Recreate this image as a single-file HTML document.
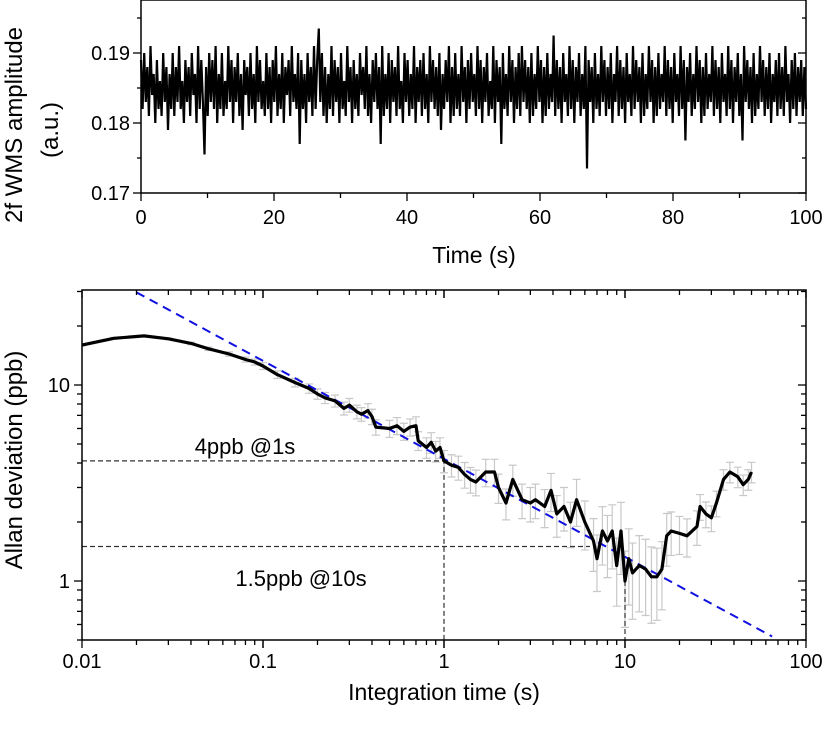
<!DOCTYPE html>
<html><head><meta charset="utf-8"><style>
body{margin:0;background:#fff}
svg{display:block;font-family:"Liberation Sans Narrow","Liberation Sans",sans-serif}
</style></head><body>
<svg id="s" width="825" height="738" viewBox="0 0 825 738"></svg>
<script>
// ---- top chart data (deviation from 0.185 in units of 0.001) ----
const topDev=[
4,-3,5,-2,3,-4,6,-1,2,-5,4,-3,1,-4,5,-2,3,-6,2,-3,
5,-4,3,-2,6,-3,1,-5,4,-2,3,-4,5,-1,2,-5,6,-3,4,-2,
-9.5,3,-4,5,-2,4,-3,6,-5,2,-3,5,-4,1,-3,6,-2,4,-5,3,
-2,5,-4,2,-6,4,-1,3,-4,5,-3,2,-5,6,-2,4,-3,1,-4,5,
-3,3,-5,4,-2,6,-4,2,-3,5,-5,3,-1,4,-4,6,-2,2,-3,5,
-8,4,-3,2,-5,5,-2,3,-4,6,-3,4,8.5,-2,5,-4,3,-5,2,-3,
6,-4,4,-2,3,-5,5,-3,1,-4,6,-2,3,-5,4,-3,2,-4,5,-1,
3,-3,6,-4,2,-5,4,-2,5,-3,3,-8,6,-4,2,-3,5,-5,4,-2,
3,-4,6,-3,1,-5,5,-2,4,-4,2,-3,6,-5,3,-2,4,-4,5,-3,
2,-5,6,-2,4,-3,3,-4,5,-6,2,-3,4,-2,6,-5,3,-4,5,-3,
2,-4,6,-2,3,-5,4,-3,5,-2,2,-4,6,-3,4,-5,3,-2,5,-4,
1,-3,6,-5,4,-2,3,-8,5,-3,2,-4,6,-2,4,-5,3,-3,5,-4,
6,-2,4,-3,3,-5,5,-4,2,-3,6,-2,4,-5,3,-4,5,-3,2,-2,
7.5,-4,4,-3,3,-5,5,-2,2,-4,6,-3,4,-5,3,-2,5,-4,2,-3,
6,-11.5,4,-2,3,-5,5,-3,2,-4,6,-2,4,-4,3,-3,5,-5,2,-2,
6,-4,4,-3,3,-5,5,-2,2,-4,6,-3,4,-2,3,-5,5,-4,2,-3,
6,-2,4,-5,3,-4,5,-3,2,-2,6,-4,4,-3,3,-5,5,-2,2,-4,
6,-3,4,-7.5,3,-2,5,-4,2,-3,6,-2,4,-5,3,-4,5,-3,2,-2,
6,-4,4,-3,3,-5,5,-2,2,-4,6,-3,4,-5,3,-2,5,-4,2,-7.5,
6,-2,4,-3,3,-5,5,-4,2,-3,6,-2,4,-4,3,-3,5,-5,2,-2,
4,-4,5,-3,3,-4,6,-2,2,-5,4,-3,5,-4,3,-2,4,-4,3,-3];
const topYTicks=[0.17,0.18,0.19];
const topXTicks=[0,20,40,60,80,100];
// ---- bottom chart data ----
const tau=[0.01,0.015,0.022,0.03,0.04,0.05,0.065,0.08,0.09,0.1,0.12,0.15,0.18,0.2,0.22,0.25,0.28,0.3,0.33,0.35,0.38,0.4,0.42,0.5,0.55,0.6,0.65,0.7,0.72,0.8,0.85,0.9,0.95,1,1.1,1.2,1.3,1.4,1.5,1.7,1.9,2,2.2,2.4,2.7,3,3.2,3.6,3.9,4.2,4.6,5,5.4,6,6.7,7,7.5,8,8.5,9,9.5,10,10.5,11,12,13,14,15,16,17,18,20,22,25,26,28,30,32,35,38,42,45,48,50];
const adev=[16,17.3,17.8,17.2,16.3,15.3,14.4,13.5,13.1,12.5,11.3,10.3,9.6,9,8.6,8.3,7.6,7.9,7.3,7.1,7.4,6.9,6.1,6,6.2,5.8,6.1,6.2,5.2,4.8,5.1,4.6,4.8,4.1,3.9,3.8,3.5,3.3,3.2,3.6,3.6,3.0,2.5,3.3,2.6,2.5,2.6,2.4,2.9,2.2,2.4,2.0,2.6,2.0,1.6,1.3,1.8,1.6,1.8,1.2,1.8,1.0,1.3,1.1,1.2,1.15,1.05,1.05,1.15,1.7,1.8,1.75,1.7,1.9,2.4,2.2,2.1,2.5,3.3,3.6,3.4,3.1,3.3,3.6];
const errFrac=[0.01,0.01,0.01,0.01,0.015,0.02,0.025,0.03,0.035,0.04,0.045,0.05,0.055,0.06,0.065,0.07,0.075,0.08,0.08,0.08,0.085,0.09,0.09,0.1,0.1,0.1,0.1,0.11,0.11,0.12,0.12,0.12,0.12,0.13,0.13,0.14,0.15,0.15,0.15,0.16,0.16,0.17,0.18,0.18,0.2,0.2,0.2,0.22,0.22,0.24,0.25,0.26,0.27,0.28,0.3,0.32,0.33,0.35,0.36,0.38,0.4,0.42,0.42,0.42,0.42,0.42,0.42,0.4,0.38,0.3,0.25,0.22,0.22,0.2,0.15,0.15,0.15,0.15,0.12,0.12,0.12,0.12,0.12,0.12];
const botXTicks=[0.01,0.1,1,10,100];
const botXLabels=["0.01","0.1","1","10","100"];
const botYTicks=[1,10];
const fitCoef=4.2, fitSlope=-0.5;
const NS="http://www.w3.org/2000/svg";
const svg=document.getElementById('s');
function el(tag,attrs,parent){const e=document.createElementNS(NS,tag);for(const k in attrs)e.setAttribute(k,attrs[k]);(parent||svg).appendChild(e);return e;}
// top axes
const TL=141,TR=806,TT=0,TB=193;
const tx=v=>TL+(v/100)*(TR-TL);
const ty=v=>TB-(v-0.17)/0.01*70;
const gTop=el('g',{});


let d='';
topDev.forEach((v,i)=>{const x=tx(i*100/(topDev.length-1)),y=ty(0.185+v*0.001);d+=(i?'L':'M')+x.toFixed(1)+' '+y.toFixed(1);});
const tl=el('path',{d:d,fill:'none',stroke:'#000','stroke-width':2.2},gTop);


el('rect',{x:TL,y:TT,width:TR-TL,height:TB-TT,fill:'none',stroke:'#000','stroke-width':1.5},gTop);
for(let v=0.17;v<=0.1975;v+=0.005){const y=ty(v);const maj=Math.abs(v*100-Math.round(v*100))<1e-6;el('line',{x1:TL-(maj?8:4),x2:TL,y1:y,y2:y,stroke:'#000','stroke-width':1.3},gTop);el('line',{x1:TR,x2:TR-(maj?8:4),y1:y,y2:y,stroke:'#000','stroke-width':1.3},gTop);}
topYTicks.forEach(v=>{const t=el('text',{x:TL-11,y:ty(v)+7,'text-anchor':'end','font-size':20},gTop);t.textContent=v.toFixed(2);});
for(let v=0;v<=100;v+=10){const x=tx(v);const maj=v%20===0;el('line',{x1:x,x2:x,y1:TB,y2:TB+(maj?8:5),stroke:'#000','stroke-width':1.3},gTop);}
topXTicks.forEach(v=>{const t=el('text',{x:tx(v),y:TB+31,'text-anchor':'middle','font-size':20},gTop);t.textContent=v;});
let t=el('text',{x:474,y:263,'text-anchor':'middle','font-size':23},gTop);t.textContent='Time (s)';


t=el('text',{transform:'translate(22,125) rotate(-90)','text-anchor':'middle','font-size':24},gTop);t.textContent='2f WMS amplitude';


t=el('text',{transform:'translate(58,130) rotate(-90)','text-anchor':'middle','font-size':24},gTop);t.textContent='(a.u.)';


// bottom axes
const BL=82,BR=806,BT=290,BB=640;
const lx=v=>BL+(Math.log10(v)+2)*(BR-BL)/4;
const ly=v=>581-Math.log10(v)*196;
const gB=el('g',{});


const clip=el('clipPath',{id:'cb'});el('rect',{x:BL,y:BT,width:BR-BL,height:BB-BT},clip);
const gPlot=el('g',{'clip-path':'url(#cb)'},gB);
// error bars
tau.forEach((x,i)=>{const X=lx(x),hi=ly(adev[i]*(1+errFrac[i])),lo=ly(adev[i]*(1-errFrac[i]));const e=el('path',{d:`M${X} ${hi}V${lo}M${X-4} ${hi}h8M${X-4} ${lo}h8`,stroke:'#c8c8c8','stroke-width':1.2,fill:'none'},gPlot);});
// reference dashed lines
const ref4=el('path',{d:`M${BL} ${ly(4.1)}H${lx(1)}V${BB}`,stroke:'#333','stroke-width':1.2,'stroke-dasharray':'5,3',fill:'none'},gPlot);


const ref15=el('path',{d:`M${BL} ${ly(1.5)}H${lx(6.4)}M${lx(10)} ${ly(1.0)}V${BB}`,stroke:'#333','stroke-width':1.2,'stroke-dasharray':'5,3',fill:'none'},gPlot);


// fit line
const fx1=0.02,fx2=65;
const fit=el('line',{x1:lx(fx1),y1:ly(fitCoef*Math.pow(fx1,fitSlope)),x2:lx(fx2),y2:ly(fitCoef*Math.pow(fx2,fitSlope)),stroke:'#1010e0','stroke-width':2,'stroke-dasharray':'9,6'},gPlot);


d='';tau.forEach((x,i)=>{d+=(i?'L':'M')+lx(x).toFixed(1)+' '+ly(adev[i]).toFixed(1);});
const al=el('path',{d:d,fill:'none',stroke:'#000','stroke-width':3.2,'stroke-linejoin':'round'},gPlot);


el('rect',{x:BL,y:BT,width:BR-BL,height:BB-BT,fill:'none',stroke:'#000','stroke-width':1.5},gB);
// x ticks
for(let e=-2;e<2;e++)for(let m=1;m<=10;m++){const v=m*Math.pow(10,e);const x=lx(v);const maj=m===1||m===10;const L=maj?8:5;el('line',{x1:x,x2:x,y1:BB,y2:BB+L,stroke:'#000','stroke-width':1.3},gB);el('line',{x1:x,x2:x,y1:BT,y2:BT+L,stroke:'#000','stroke-width':1.3},gB);}
botXTicks.forEach((v,i)=>{const t=el('text',{x:lx(v),y:BB+28,'text-anchor':'middle','font-size':20},gB);t.textContent=botXLabels[i];});
// y ticks
for(let e=-1;e<2;e++)for(let m=1;m<=9;m++){const v=m*Math.pow(10,e);if(v<0.5||v>30.5)continue;const y=ly(v);const maj=m===1;const L=maj?8:5;el('line',{x1:BL-L,x2:BL,y1:y,y2:y,stroke:'#000','stroke-width':1.3},gB);el('line',{x1:BR-L,x2:BR,y1:y,y2:y,stroke:'#000','stroke-width':1.3},gB);}
botYTicks.forEach(v=>{const t=el('text',{x:BL-12,y:ly(v)+7,'text-anchor':'end','font-size':20},gB);t.textContent=v;});
t=el('text',{x:444,y:700,'text-anchor':'middle','font-size':23},gB);t.textContent='Integration time (s)';


t=el('text',{transform:'translate(22,460) rotate(-90)','text-anchor':'middle','font-size':24},gB);t.textContent='Allan deviation (ppb)';


t=el('text',{x:245,y:454,'text-anchor':'middle','font-size':22},gB);t.textContent='4ppb @1s';


t=el('text',{x:301,y:586,'text-anchor':'middle','font-size':22},gB);t.textContent='1.5ppb @10s';


</script>
</body></html>
